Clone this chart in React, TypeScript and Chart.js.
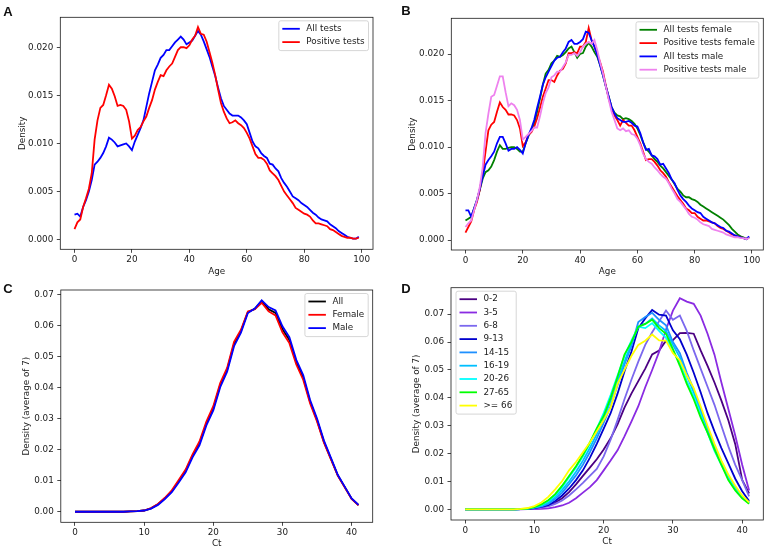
import { useEffect, useRef } from "react";
import { Chart, registerables } from "chart.js";

Chart.register(...registerables);

const FONT_FAMILY = "'DejaVu Sans', 'Noto Sans', sans-serif";
const FONT_SIZE = 8.8;
const TEXT_COLOR = "#1a1a1a";
const LINE_WIDTH = 1.8;

// ---------- categories ----------
const ages: number[] = Array.from({ length: 100 }, (_, i) => i);
const cts: number[] = Array.from({ length: 42 }, (_, i) => i);

// ---------- tick labels ----------
const ageTicks = [0, 20, 40, 60, 80, 100];
const ctTicks = [0, 10, 20, 30, 40];
const ageDensityTicks = [0, 0.005, 0.01, 0.015, 0.02];
const ctDensityTicks = [0, 0.01, 0.02, 0.03, 0.04, 0.05, 0.06, 0.07];

// ---------- panel A ----------
const ageAllTests = [
  0.0026, 0.0027, 0.0024, 0.0034, 0.0041, 0.0050, 0.0062, 0.0078, 0.0081, 0.0085,
  0.0090, 0.0097, 0.0106, 0.0104, 0.0101, 0.0097, 0.0098, 0.0099, 0.0100, 0.0097,
  0.0093, 0.0102, 0.0109, 0.0116, 0.0124, 0.0138, 0.0152, 0.0164, 0.0176, 0.0182,
  0.0189, 0.0192, 0.0197, 0.0197, 0.0201, 0.0205, 0.0208, 0.0211, 0.0208, 0.0203,
  0.0205, 0.0207, 0.0212, 0.0217, 0.0213, 0.0206, 0.0198, 0.0190, 0.0180, 0.0170,
  0.0158, 0.0147, 0.0139, 0.0135, 0.0131, 0.0129, 0.0129, 0.0129, 0.0127, 0.0124,
  0.0120, 0.0111, 0.0102, 0.0097, 0.0095, 0.0090, 0.0087, 0.0085, 0.0079, 0.0078,
  0.0074, 0.0071, 0.0064, 0.0059, 0.0055, 0.0050, 0.0045, 0.0043, 0.0041, 0.0038,
  0.0036, 0.0034, 0.0031, 0.0028, 0.0026, 0.0023, 0.0021, 0.0020, 0.0019, 0.0016,
  0.0014, 0.0012, 0.0009, 0.0007, 0.0005, 0.0003, 0.0002, 0.0001, 0.0001, 0.0003,
];
const agePositiveTests = [
  0.0011, 0.0018, 0.0021, 0.0034, 0.0043, 0.0053, 0.0069, 0.0104, 0.0124, 0.0137,
  0.0140, 0.0150, 0.0161, 0.0157, 0.0149, 0.0139, 0.0140, 0.0139, 0.0135, 0.0123,
  0.0105, 0.0108, 0.0114, 0.0117, 0.0123, 0.0128, 0.0137, 0.0145, 0.0156, 0.0164,
  0.0171, 0.0170, 0.0176, 0.0180, 0.0183, 0.0190, 0.0197, 0.0200, 0.0200, 0.0199,
  0.0202, 0.0208, 0.0212, 0.0221, 0.0214, 0.0213, 0.0206, 0.0195, 0.0184, 0.0171,
  0.0156, 0.0142, 0.0133, 0.0126, 0.0121, 0.0122, 0.0124, 0.0121, 0.0119, 0.0116,
  0.0111, 0.0105, 0.0097, 0.0089, 0.0085, 0.0085, 0.0083, 0.0079, 0.0072, 0.0069,
  0.0066, 0.0062, 0.0056, 0.0050, 0.0046, 0.0042, 0.0038, 0.0033, 0.0031, 0.0029,
  0.0027, 0.0026, 0.0024, 0.0020, 0.0017, 0.0017, 0.0016, 0.0015, 0.0014, 0.0011,
  0.0010, 0.0008, 0.0006, 0.0004, 0.0003, 0.0002, 0.0002, 0.0001, 0.0001, 0.0002,
];

// ---------- panel B ----------
const ageAllFemale = [
  0.0021, 0.0023, 0.0025, 0.0034, 0.0043, 0.0054, 0.0066, 0.0073, 0.0075, 0.0079,
  0.0086, 0.0095, 0.0102, 0.0098, 0.0098, 0.0099, 0.0100, 0.0100, 0.0098, 0.0095,
  0.0095, 0.0104, 0.0112, 0.0118, 0.0125, 0.0138, 0.0152, 0.0167, 0.0179, 0.0183,
  0.0190, 0.0193, 0.0198, 0.0197, 0.0199, 0.0202, 0.0206, 0.0208, 0.0202, 0.0196,
  0.0200, 0.0201, 0.0208, 0.0212, 0.0208, 0.0202, 0.0197, 0.0188, 0.0177, 0.0165,
  0.0154, 0.0143, 0.0137, 0.0134, 0.0133, 0.0130, 0.0131, 0.0130, 0.0128, 0.0125,
  0.0120, 0.0113, 0.0105, 0.0098, 0.0095, 0.0091, 0.0087, 0.0084, 0.0080, 0.0077,
  0.0073, 0.0069, 0.0065, 0.0060, 0.0055, 0.0052, 0.0048, 0.0046, 0.0046, 0.0044,
  0.0043, 0.0041, 0.0038, 0.0036, 0.0034, 0.0032, 0.0030, 0.0028, 0.0026, 0.0024,
  0.0022, 0.0019, 0.0016, 0.0012, 0.0009, 0.0006, 0.0004, 0.0003, 0.0001, 0.0003,
];
const agePositiveFemale = [
  0.0008, 0.0014, 0.0020, 0.0032, 0.0041, 0.0054, 0.0072, 0.0095, 0.0118, 0.0124,
  0.0127, 0.0138, 0.0148, 0.0143, 0.0140, 0.0135, 0.0135, 0.0134, 0.0129, 0.0120,
  0.0101, 0.0105, 0.0113, 0.0116, 0.0122, 0.0131, 0.0142, 0.0154, 0.0163, 0.0172,
  0.0172, 0.0170, 0.0177, 0.0182, 0.0184, 0.0190, 0.0201, 0.0201, 0.0202, 0.0201,
  0.0208, 0.0208, 0.0213, 0.0228, 0.0215, 0.0208, 0.0200, 0.0191, 0.0181, 0.0166,
  0.0152, 0.0142, 0.0134, 0.0129, 0.0123, 0.0129, 0.0126, 0.0123, 0.0123, 0.0118,
  0.0111, 0.0104, 0.0095, 0.0086, 0.0087, 0.0087, 0.0084, 0.0080, 0.0075, 0.0072,
  0.0068, 0.0062, 0.0057, 0.0052, 0.0047, 0.0043, 0.0039, 0.0034, 0.0032, 0.0029,
  0.0029, 0.0025, 0.0023, 0.0021, 0.0021, 0.0020, 0.0019, 0.0018, 0.0015, 0.0013,
  0.0012, 0.0010, 0.0008, 0.0006, 0.0005, 0.0004, 0.0003, 0.0002, 0.0001, 0.0003,
];
const ageAllMale = [
  0.0032, 0.0032, 0.0025, 0.0034, 0.0043, 0.0055, 0.0068, 0.0081, 0.0086, 0.0090,
  0.0095, 0.0104, 0.0111, 0.0111, 0.0104, 0.0096, 0.0098, 0.0098, 0.0100, 0.0097,
  0.0093, 0.0104, 0.0113, 0.0120, 0.0129, 0.0142, 0.0154, 0.0167, 0.0175, 0.0181,
  0.0187, 0.0193, 0.0196, 0.0197, 0.0202, 0.0206, 0.0213, 0.0215, 0.0211, 0.0211,
  0.0213, 0.0216, 0.0224, 0.0223, 0.0215, 0.0208, 0.0199, 0.0188, 0.0177, 0.0165,
  0.0154, 0.0143, 0.0136, 0.0131, 0.0129, 0.0127, 0.0127, 0.0128, 0.0126, 0.0123,
  0.0122, 0.0115, 0.0105, 0.0097, 0.0098, 0.0091, 0.0090, 0.0087, 0.0081, 0.0082,
  0.0077, 0.0072, 0.0065, 0.0061, 0.0054, 0.0048, 0.0044, 0.0041, 0.0037, 0.0034,
  0.0032, 0.0030, 0.0029, 0.0025, 0.0023, 0.0021, 0.0019, 0.0018, 0.0016, 0.0014,
  0.0013, 0.0010, 0.0009, 0.0007, 0.0005, 0.0004, 0.0003, 0.0002, 0.0001, 0.0004,
];
const agePositiveMale = [
  0.0014, 0.0018, 0.0021, 0.0032, 0.0043, 0.0057, 0.0078, 0.0115, 0.0136, 0.0154,
  0.0156, 0.0166, 0.0176, 0.0176, 0.0159, 0.0144, 0.0147, 0.0145, 0.0140, 0.0129,
  0.0108, 0.0111, 0.0114, 0.0117, 0.0121, 0.0121, 0.0133, 0.0147, 0.0158, 0.0164,
  0.0175, 0.0177, 0.0181, 0.0181, 0.0186, 0.0191, 0.0199, 0.0199, 0.0201, 0.0198,
  0.0202, 0.0208, 0.0211, 0.0213, 0.0211, 0.0215, 0.0204, 0.0191, 0.0179, 0.0165,
  0.0151, 0.0138, 0.0129, 0.0120, 0.0118, 0.0120, 0.0117, 0.0118, 0.0114, 0.0113,
  0.0109, 0.0102, 0.0093, 0.0087, 0.0084, 0.0082, 0.0078, 0.0075, 0.0071, 0.0068,
  0.0066, 0.0061, 0.0055, 0.0050, 0.0044, 0.0041, 0.0037, 0.0033, 0.0028, 0.0025,
  0.0024, 0.0022, 0.0019, 0.0017, 0.0016, 0.0015, 0.0012, 0.0011, 0.0010, 0.0009,
  0.0008, 0.0006, 0.0005, 0.0004, 0.0003, 0.0003, 0.0002, 0.0002, 0.0001, 0.0002,
];

// ---------- panel C ----------
const ctAll = [
  0, 0, 0, 0, 0, 0, 0, 0, 0.0001, 0.0002,
  0.0004, 0.0011, 0.0024, 0.0043, 0.0066, 0.0098, 0.0132, 0.0180, 0.0220, 0.0284,
  0.0333, 0.0408, 0.0457, 0.0540, 0.0582, 0.0643, 0.0653, 0.0678, 0.0652, 0.0640,
  0.0588, 0.0553, 0.0481, 0.0432, 0.0354, 0.0295, 0.0225, 0.0171, 0.0117, 0.0080,
  0.0042, 0.0021,
];
const ctFemale = [
  0, 0, 0, 0, 0, 0, 0, 0, 0.0001, 0.0002,
  0.0004, 0.0012, 0.0025, 0.0045, 0.0069, 0.0102, 0.0136, 0.0185, 0.0226, 0.0290,
  0.0340, 0.0414, 0.0463, 0.0547, 0.0586, 0.0645, 0.0652, 0.0673, 0.0645, 0.0632,
  0.0578, 0.0543, 0.0474, 0.0425, 0.0349, 0.0291, 0.0222, 0.0169, 0.0116, 0.0079,
  0.0041, 0.0021,
];
const ctMale = [
  0, 0, 0, 0, 0, 0, 0, 0, 0.0001, 0.0002,
  0.0004, 0.0010, 0.0022, 0.0041, 0.0063, 0.0094, 0.0127, 0.0175, 0.0214, 0.0278,
  0.0326, 0.0401, 0.0451, 0.0533, 0.0577, 0.0640, 0.0654, 0.0681, 0.0659, 0.0648,
  0.0597, 0.0562, 0.0489, 0.0440, 0.0360, 0.0300, 0.0229, 0.0174, 0.0119, 0.0081,
  0.0043, 0.0022,
];

// ---------- panel D ----------
const ctAge0to2 = [
  0, 0, 0, 0, 0, 0, 0, 0, 0.0001, 0.0002,
  0.0004, 0.0008, 0.0014, 0.0024, 0.0040, 0.0062, 0.0090, 0.0120, 0.0150, 0.0180,
  0.0215, 0.0255, 0.0305, 0.0365, 0.0415, 0.0460, 0.0505, 0.0556, 0.0570, 0.0605,
  0.0607, 0.0632, 0.0633, 0.0630, 0.0570, 0.0515, 0.0455, 0.0390, 0.0320, 0.0234,
  0.0106, 0.0057,
];
const ctAge3to5 = [
  0, 0, 0, 0, 0, 0, 0, 0, 0, 0.0001,
  0.0001, 0.0002, 0.0004, 0.0008, 0.0014, 0.0024, 0.0040, 0.0060, 0.0080, 0.0105,
  0.0140, 0.0175, 0.0212, 0.0262, 0.0315, 0.0370, 0.0438, 0.0500, 0.0565, 0.0645,
  0.0713, 0.0757, 0.0745, 0.0737, 0.0695, 0.0630, 0.0555, 0.0455, 0.0360, 0.0265,
  0.0160, 0.0068,
];
const ctAge6to8 = [
  0, 0, 0, 0, 0, 0, 0, 0, 0.0001, 0.0002,
  0.0003, 0.0006, 0.0011, 0.0020, 0.0032, 0.0050, 0.0072, 0.0095, 0.0120, 0.0145,
  0.0190, 0.0250, 0.0320, 0.0395, 0.0465, 0.0530, 0.0590, 0.0635, 0.0675, 0.0713,
  0.0680, 0.0695, 0.0640, 0.0570, 0.0505, 0.0440, 0.0375, 0.0300, 0.0226, 0.0160,
  0.0105, 0.0047,
];
const ctAge9to13 = [
  0, 0, 0, 0, 0, 0, 0, 0, 0.0001, 0.0002,
  0.0005, 0.0009, 0.0015, 0.0030, 0.0050, 0.0075, 0.0105, 0.0140, 0.0185, 0.0235,
  0.0290, 0.0345, 0.0415, 0.0495, 0.0565, 0.0650, 0.0685, 0.0715, 0.0698, 0.0695,
  0.0642, 0.0610, 0.0555, 0.0490, 0.0420, 0.0345, 0.0280, 0.0220, 0.0165, 0.0110,
  0.0065, 0.0030,
];
const ctAge14to15 = [
  0, 0, 0, 0, 0, 0, 0, 0, 0.0001, 0.0003,
  0.0006, 0.0011, 0.0020, 0.0038, 0.0060, 0.0090, 0.0122, 0.0160, 0.0205, 0.0255,
  0.0310, 0.0370, 0.0445, 0.0520, 0.0585, 0.0672, 0.0690, 0.0705, 0.0680, 0.0660,
  0.0600, 0.0560, 0.0490, 0.0430, 0.0360, 0.0290, 0.0225, 0.0170, 0.0120, 0.0078,
  0.0045, 0.0025,
];
const ctAge16to19 = [
  0, 0, 0, 0, 0, 0, 0, 0, 0.0001, 0.0003,
  0.0007, 0.0013, 0.0025, 0.0045, 0.0070, 0.0100, 0.0135, 0.0175, 0.0220, 0.0270,
  0.0325, 0.0390, 0.0460, 0.0530, 0.0595, 0.0655, 0.0665, 0.0685, 0.0660, 0.0640,
  0.0590, 0.0545, 0.0480, 0.0420, 0.0350, 0.0285, 0.0220, 0.0165, 0.0115, 0.0075,
  0.0045, 0.0025,
];
const ctAge20to26 = [
  0, 0, 0, 0, 0, 0, 0, 0, 0.0001, 0.0003,
  0.0008, 0.0016, 0.0030, 0.0050, 0.0080, 0.0115, 0.0150, 0.0190, 0.0235, 0.0290,
  0.0345, 0.0410, 0.0480, 0.0550, 0.0605, 0.0655, 0.0650, 0.0668, 0.0640, 0.0615,
  0.0570, 0.0525, 0.0460, 0.0405, 0.0340, 0.0275, 0.0210, 0.0160, 0.0112, 0.0072,
  0.0042, 0.0022,
];
const ctAge27to65 = [
  0, 0, 0, 0, 0, 0, 0, 0, 0.0001, 0.0003,
  0.0008, 0.0018, 0.0033, 0.0055, 0.0085, 0.0120, 0.0155, 0.0195, 0.0240, 0.0290,
  0.0335, 0.0400, 0.0475, 0.0555, 0.0600, 0.0655, 0.0665, 0.0680, 0.0650, 0.0630,
  0.0575, 0.0515, 0.0450, 0.0395, 0.0330, 0.0275, 0.0215, 0.0160, 0.0105, 0.0068,
  0.0040, 0.0020,
];
const ctAge66plus = [
  0, 0, 0, 0, 0, 0, 0, 0, 0.0002, 0.0005,
  0.0012, 0.0025, 0.0045, 0.0072, 0.0102, 0.0140, 0.0170, 0.0205, 0.0240, 0.0280,
  0.0320, 0.0365, 0.0450, 0.0500, 0.0550, 0.0590, 0.0605, 0.0627, 0.0606, 0.0605,
  0.0560, 0.0535, 0.0480, 0.0435, 0.0370, 0.0300, 0.0235, 0.0175, 0.0125, 0.0085,
  0.0050, 0.0025,
];

// ---------- types & panel setup ----------
type Series = { label: string; color: string; data: number[] };
type PanelCfg = {
  key: string;
  left: number;
  top: number;
  width: number;
  height: number;
  area: { l: number; t: number; r: number; b: number };
  xs: number[];
  xMin: number;
  xMax: number;
  yMin: number;
  yMax: number;
  xTicks: number[];
  yTicks: number[];
  yDigits: number;
  xTitle: string;
  yTitle: string;
  yTitleCenter: number;
  xTitleCenter: number;
  series: Series[];
  legendCorner: "tr" | "tl";
  letter: string;
  letterX: number;
  letterBaseline: number;
};

const panels: PanelCfg[] = [
  {
    key: "A",
    left: 0, top: 0, width: 384, height: 280,
    area: { l: 60.3, t: 17.3, r: 373, b: 249.3 },
    xs: ages, xMin: -4.95, xMax: 103.95, yMin: -0.001, yMax: 0.02311,
    xTicks: ageTicks, yTicks: ageDensityTicks, yDigits: 3,
    xTitle: "Age", yTitle: "Density", yTitleCenter: 22.5, xTitleCenter: 272,
    series: [
      { label: "All tests", color: "#0000ff", data: ageAllTests },
      { label: "Positive tests", color: "#ff0000", data: agePositiveTests },
    ],
    legendCorner: "tr", letter: "A", letterX: 3.3, letterBaseline: 16,
  },
  {
    key: "B",
    left: 384, top: 0, width: 383, height: 280,
    area: { l: 67.3, t: 18.3, r: 379.3, b: 250 },
    xs: ages, xMin: -4.95, xMax: 103.95, yMin: -0.00107, yMax: 0.02384,
    xTicks: ageTicks, yTicks: ageDensityTicks, yDigits: 3,
    xTitle: "Age", yTitle: "Density", yTitleCenter: 29.2, xTitleCenter: 272,
    series: [
      { label: "All tests female", color: "#008000", data: ageAllFemale },
      { label: "Positive tests female", color: "#ff0000", data: agePositiveFemale },
      { label: "All tests male", color: "#0000ff", data: ageAllMale },
      { label: "Positive tests male", color: "#ee82ee", data: agePositiveMale },
    ],
    legendCorner: "tr", letter: "B", letterX: 17.3, letterBaseline: 15,
  },
  {
    key: "C",
    left: 0, top: 275, width: 384, height: 275,
    area: { l: 60.8, t: 15, r: 372.7, b: 247.3 },
    xs: cts, xMin: -2.05, xMax: 43.05, yMin: -0.0034, yMax: 0.0714,
    xTicks: ctTicks, yTicks: ctDensityTicks, yDigits: 2,
    xTitle: "Ct", yTitle: "Density (average of 7)", yTitleCenter: 26.7, xTitleCenter: 268.5,
    series: [
      { label: "All", color: "#000000", data: ctAll },
      { label: "Female", color: "#ff0000", data: ctFemale },
      { label: "Male", color: "#0000ff", data: ctMale },
    ],
    legendCorner: "tr", letter: "C", letterX: 3.3, letterBaseline: 18.3,
  },
  {
    key: "D",
    left: 384, top: 275, width: 383, height: 275,
    area: { l: 67, t: 12.7, r: 379.3, b: 245 },
    xs: cts, xMin: -2.05, xMax: 43.05, yMin: -0.0038, yMax: 0.0795,
    xTicks: ctTicks, yTicks: ctDensityTicks, yDigits: 2,
    xTitle: "Ct", yTitle: "Density (average of 7)", yTitleCenter: 33, xTitleCenter: 267,
    series: [
      { label: "0-2", color: "#4b0082", data: ctAge0to2 },
      { label: "3-5", color: "#8a2be2", data: ctAge3to5 },
      { label: "6-8", color: "#7b68ee", data: ctAge6to8 },
      { label: "9-13", color: "#0000cd", data: ctAge9to13 },
      { label: "14-15", color: "#1e90ff", data: ctAge14to15 },
      { label: "16-19", color: "#00bfff", data: ctAge16to19 },
      { label: "20-26", color: "#00ffff", data: ctAge20to26 },
      { label: "27-65", color: "#00ff00", data: ctAge27to65 },
      { label: ">= 66", color: "#ffff00", data: ctAge66plus },
    ],
    legendCorner: "tl", letter: "D", letterX: 17.3, letterBaseline: 18.3,
  },
];

function buildChart(canvas: HTMLCanvasElement, p: PanelCfg) {
  const lh = FONT_SIZE * 1.2;
  const tickFont = { family: FONT_FAMILY, size: FONT_SIZE };

  const decor = {
    id: "mplDecor",
    afterDatasetsDraw(chart: any) {
      const { ctx, chartArea: a } = chart;
      ctx.save();
      ctx.strokeStyle = TEXT_COLOR;
      ctx.lineWidth = 0.8;
      ctx.strokeRect(a.left, a.top, a.right - a.left, a.bottom - a.top);
      ctx.restore();
    },
    afterDraw(chart: any) {
      const { ctx, chartArea: a } = chart;
      ctx.save();
      ctx.font = `${FONT_SIZE}px ${FONT_FAMILY}`;
      const textW = Math.max(...p.series.map((s) => ctx.measureText(s.label).width));
      const w = 27.5 + textW + 4;
      const n = p.series.length;
      const rowH = 13.3;
      const h = 8 + (n - 1) * rowH + 8.5;
      const x = p.legendCorner === "tr" ? a.right - 4.5 - w : a.left + 5;
      const y = a.top + 3.5;
      ctx.beginPath();
      if ((ctx as any).roundRect) (ctx as any).roundRect(x, y, w, h, 2);
      else ctx.rect(x, y, w, h);
      ctx.fillStyle = "rgba(255,255,255,0.8)";
      ctx.fill();
      ctx.strokeStyle = "#cccccc";
      ctx.lineWidth = 0.8;
      ctx.stroke();
      p.series.forEach((s, i) => {
        const cy = y + 8 + i * rowH;
        ctx.beginPath();
        ctx.moveTo(x + 3.5, cy);
        ctx.lineTo(x + 21, cy);
        ctx.strokeStyle = s.color;
        ctx.lineWidth = LINE_WIDTH;
        ctx.stroke();
        ctx.fillStyle = TEXT_COLOR;
        ctx.textBaseline = "middle";
        ctx.textAlign = "left";
        ctx.fillText(s.label, x + 27.5, cy);
      });
      ctx.font = `bold 13px 'Liberation Sans', Arial, sans-serif`;
      ctx.fillStyle = "#111111";
      ctx.textBaseline = "alphabetic";
      ctx.textAlign = "left";
      ctx.fillText(p.letter, p.letterX, p.letterBaseline);
      ctx.restore();
    },
  };

  const n = p.series.length;
  return new Chart(canvas, {
    type: "line",
    data: {
      datasets: p.series.map((s, i) => ({
        label: s.label,
        data: s.data.map((v, j) => ({ x: p.xs[j], y: v })),
        borderColor: s.color,
        backgroundColor: s.color,
        borderWidth: LINE_WIDTH,
        pointRadius: 0,
        pointHoverRadius: 0,
        fill: false,
        tension: 0,
        order: n - i,
      })),
    },
    options: {
      animation: false,
      responsive: false,
      maintainAspectRatio: false,
      events: [],
      layout: {
        padding: { left: 0, top: p.area.t, right: p.width - p.area.r, bottom: 0 },
      },
      plugins: {
        legend: { display: false },
        tooltip: { enabled: false },
        title: { display: false },
      },
      scales: {
        x: {
          type: "linear",
          min: p.xMin,
          max: p.xMax,
          afterBuildTicks: (scale: any) => {
            scale.ticks = p.xTicks.map((v) => ({ value: v }));
          },
          afterFit: (scale: any) => {
            scale.height = p.height - p.area.b;
          },
          ticks: {
            autoSkip: false,
            maxRotation: 0,
            minRotation: 0,
            padding: 2,
            color: TEXT_COLOR,
            font: tickFont,
            callback: (v: any) => String(v),
          },
          grid: {
            display: true,
            drawOnChartArea: false,
            drawTicks: true,
            tickLength: 3.5,
            tickColor: TEXT_COLOR,
            tickWidth: 0.8,
          },
          border: { display: false },
          title: {
            display: true,
            text: p.xTitle,
            color: TEXT_COLOR,
            font: tickFont,
            padding: { top: 0, bottom: p.height - p.xTitleCenter - lh / 2 },
          },
        },
        y: {
          type: "linear",
          min: p.yMin,
          max: p.yMax,
          afterBuildTicks: (scale: any) => {
            scale.ticks = p.yTicks.map((v) => ({ value: v }));
          },
          afterFit: (scale: any) => {
            scale.width = p.area.l;
          },
          ticks: {
            autoSkip: false,
            padding: 3.5,
            color: TEXT_COLOR,
            font: tickFont,
            callback: (v: any) => Number(v).toFixed(p.yDigits),
          },
          grid: {
            display: true,
            drawOnChartArea: false,
            drawTicks: true,
            tickLength: 3.5,
            tickColor: TEXT_COLOR,
            tickWidth: 0.8,
          },
          border: { display: false },
          title: {
            display: true,
            text: p.yTitle,
            color: TEXT_COLOR,
            font: tickFont,
            padding: { top: p.yTitleCenter - lh / 2, bottom: 0 },
          },
        },
      },
    },
    plugins: [decor],
  } as any);
}

function Panel({ cfg }: { cfg: PanelCfg }) {
  const ref = useRef<HTMLCanvasElement | null>(null);
  useEffect(() => {
    if (!ref.current) return;
    const chart = buildChart(ref.current, cfg);
    return () => chart.destroy();
  }, [cfg]);
  return (
    <div
      style={{
        position: "absolute",
        left: cfg.left,
        top: cfg.top,
        width: cfg.width,
        height: cfg.height,
      }}
    >
      <canvas
        ref={ref}
        width={cfg.width}
        height={cfg.height}
        style={{ width: cfg.width, height: cfg.height, display: "block" }}
      />
    </div>
  );
}

export default function App() {
  return (
    <div
      style={{
        position: "absolute",
        left: 0,
        top: 0,
        width: 767,
        height: 550,
        background: "#ffffff",
        overflow: "hidden",
      }}
    >
      {panels.map((p) => (
        <Panel key={p.key} cfg={p} />
      ))}
    </div>
  );
}
